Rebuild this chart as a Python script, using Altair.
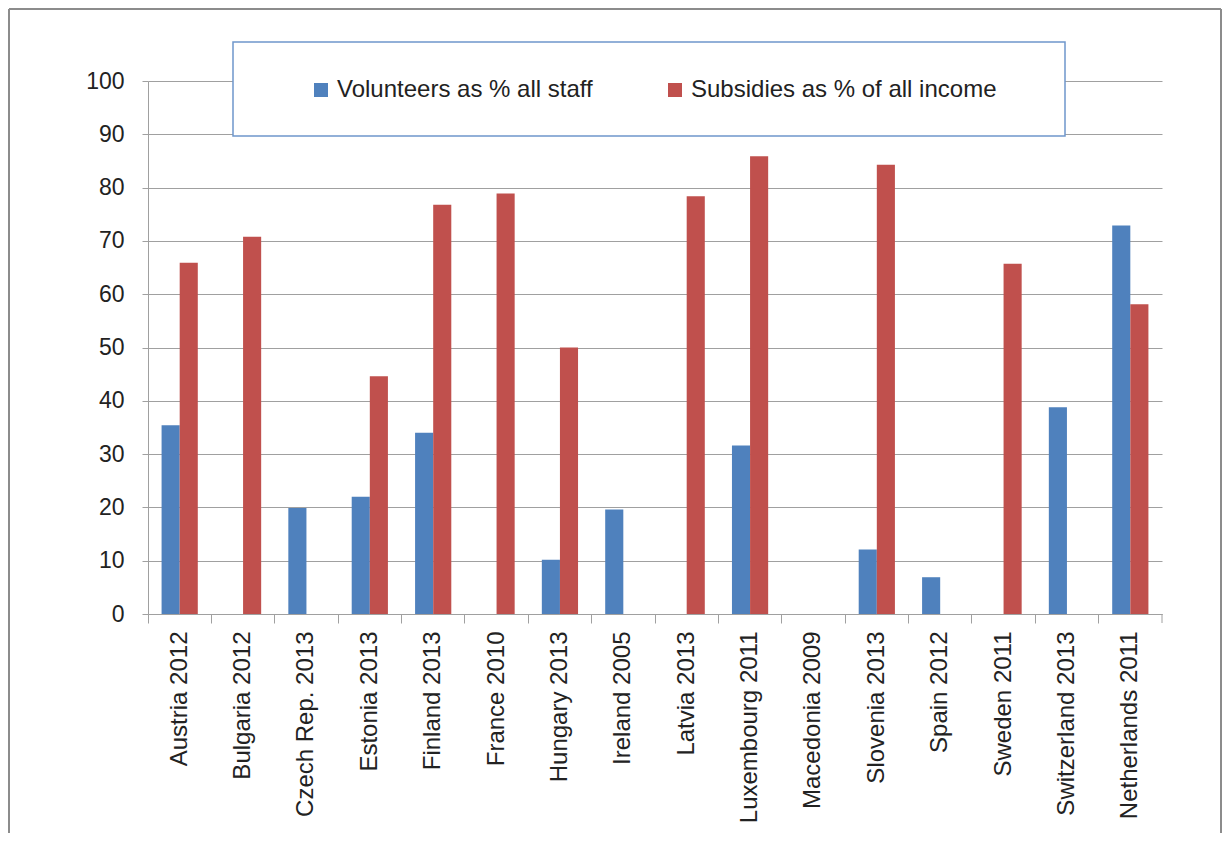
import altair as alt
import pandas as pd

categories = ["Austria 2012", "Bulgaria 2012", "Czech Rep. 2013", "Estonia 2013",
              "Finland 2013", "France 2010", "Hungary 2013", "Ireland 2005",
              "Latvia 2013", "Luxembourg 2011", "Macedonia 2009", "Slovenia 2013",
              "Spain 2012", "Sweden 2011", "Switzerland 2013", "Netherlands 2011"]
volunteers = [35.4, None, 19.9, 22.0, 34.0, None, 10.2, 19.6,
              None, 31.6, None, 12.1, 6.9, None, 38.8, 72.9]
subsidies = [65.9, 70.8, None, 44.6, 76.8, 78.9, 50.0, None,
             78.4, 85.9, None, 84.3, None, 65.7, None, 58.1]
series_names = ["Volunteers as % all staff", "Subsidies as % of all income"]
series_colors = ["#4F81BD", "#C0504D"]
y_ticks = list(range(0, 101, 10))

rows = []
for name, vals in zip(series_names, [volunteers, subsidies]):
    for c, v in zip(categories, vals):
        if v is not None:
            rows.append({"country": c, "series": name, "value": v})
df = pd.DataFrame(rows)

W, H = 1014, 533
FONT = "Liberation Sans"
GRID = "#a0a0a0"
TXT = "#222222"

bars = alt.Chart(df).mark_bar().encode(
    x=alt.X("country:N",
            scale=alt.Scale(domain=categories, paddingInner=0, paddingOuter=0),
            axis=alt.Axis(title=None, bandPosition=0, labelAngle=-90,
                          labelAlign="right", labelBaseline="middle",
                          tickSize=9, labelPadding=8, domainColor=GRID,
                          tickColor=GRID, labelFontSize=24, labelFont=FONT,
                          labelColor=TXT, grid=False, labelLimit=400)),
    xOffset=alt.XOffset("series:N",
                        scale=alt.Scale(domain=series_names, paddingInner=0,
                                        paddingOuter=0.75)),
    y=alt.Y("value:Q",
            scale=alt.Scale(domain=[0, 100], nice=False),
            axis=alt.Axis(title=None, values=y_ticks, tickSize=6,
                          labelPadding=18, domainColor=GRID, tickColor=GRID,
                          gridColor=GRID, labelFontSize=23, labelFont=FONT,
                          labelColor=TXT)),
    color=alt.Color("series:N",
                    scale=alt.Scale(domain=series_names, range=series_colors),
                    legend=alt.Legend(orient="none", legendX=161, legendY=-3,
                                      direction="horizontal", title=None,
                                      symbolType="square", symbolSize=196,
                                      symbolStrokeWidth=0,
                                      labelFontSize=24, labelFont=FONT,
                                      labelColor=TXT, columnPadding=70,
                                      labelOffset=4, padding=0, labelLimit=500)),
)

one = pd.DataFrame({"k": [0]})
legend_box = alt.Chart(one).mark_rect(fill="white", stroke="#6f97cb",
                                      strokeWidth=1.5).encode(
    x=alt.value(85), x2=alt.value(917), y=alt.value(-39), y2=alt.value(55))

frame_color = "#8c8c8c"
frame_left = alt.Chart(one).mark_rule(color=frame_color, strokeWidth=2).encode(
    x=alt.value(-139), y=alt.value(-72), y2=alt.value(752))
frame_top = alt.Chart(one).mark_rule(color=frame_color, strokeWidth=2).encode(
    x=alt.value(-139), x2=alt.value(1073), y=alt.value(-72))
frame_right = alt.Chart(one).mark_rule(color=frame_color, strokeWidth=2).encode(
    x=alt.value(1073), y=alt.value(-72), y2=alt.value(752))
end_tick = alt.Chart(one).mark_rule(color=GRID, strokeWidth=1).encode(
    x=alt.value(W), y=alt.value(H), y2=alt.value(H + 9))

chart = alt.layer(
    legend_box, bars, end_tick, frame_left, frame_top, frame_right
).properties(
    width=W, height=H, padding=0, background="white"
).configure_view(strokeWidth=0)

chart.save("out.html", embed_options={"renderer": "svg", "actions": False})
